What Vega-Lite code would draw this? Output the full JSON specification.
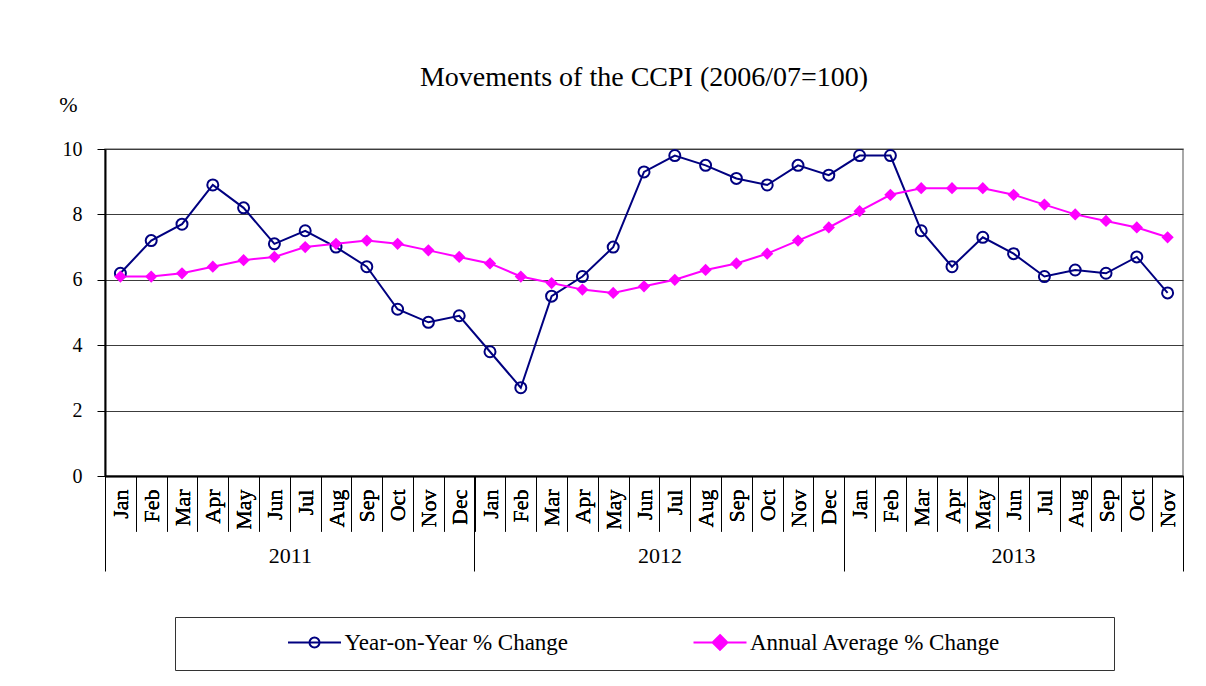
{
  "$schema": "https://vega.github.io/schema/vega-lite/v6.json",
  "width": 1078,
  "height": 327,
  "autosize": "none",
  "padding": {"left": 105, "top": 149, "right": 23, "bottom": 210},
  "background": "white",
  "title": {
    "text": "Movements of the CCPI (2006/07=100)",
    "font": "Liberation Serif",
    "fontSize": 28,
    "fontWeight": "normal",
    "color": "black",
    "anchor": "middle",
    "offset": 1
  },
  "config": {
    "font": "Liberation Serif",
    "view": {"stroke": "#8c8c8c", "strokeWidth": 1.5}
  },
  "data": {
    "values": [
      {"date": "2011-01-01", "series": "Year-on-Year % Change", "value": 6.2},
      {"date": "2011-02-01", "series": "Year-on-Year % Change", "value": 7.2},
      {"date": "2011-03-01", "series": "Year-on-Year % Change", "value": 7.7},
      {"date": "2011-04-01", "series": "Year-on-Year % Change", "value": 8.9},
      {"date": "2011-05-01", "series": "Year-on-Year % Change", "value": 8.2},
      {"date": "2011-06-01", "series": "Year-on-Year % Change", "value": 7.1},
      {"date": "2011-07-01", "series": "Year-on-Year % Change", "value": 7.5},
      {"date": "2011-08-01", "series": "Year-on-Year % Change", "value": 7.0},
      {"date": "2011-09-01", "series": "Year-on-Year % Change", "value": 6.4},
      {"date": "2011-10-01", "series": "Year-on-Year % Change", "value": 5.1},
      {"date": "2011-11-01", "series": "Year-on-Year % Change", "value": 4.7},
      {"date": "2011-12-01", "series": "Year-on-Year % Change", "value": 4.9},
      {"date": "2012-01-01", "series": "Year-on-Year % Change", "value": 3.8},
      {"date": "2012-02-01", "series": "Year-on-Year % Change", "value": 2.7},
      {"date": "2012-03-01", "series": "Year-on-Year % Change", "value": 5.5},
      {"date": "2012-04-01", "series": "Year-on-Year % Change", "value": 6.1},
      {"date": "2012-05-01", "series": "Year-on-Year % Change", "value": 7.0},
      {"date": "2012-06-01", "series": "Year-on-Year % Change", "value": 9.3},
      {"date": "2012-07-01", "series": "Year-on-Year % Change", "value": 9.8},
      {"date": "2012-08-01", "series": "Year-on-Year % Change", "value": 9.5},
      {"date": "2012-09-01", "series": "Year-on-Year % Change", "value": 9.1},
      {"date": "2012-10-01", "series": "Year-on-Year % Change", "value": 8.9},
      {"date": "2012-11-01", "series": "Year-on-Year % Change", "value": 9.5},
      {"date": "2012-12-01", "series": "Year-on-Year % Change", "value": 9.2},
      {"date": "2013-01-01", "series": "Year-on-Year % Change", "value": 9.8},
      {"date": "2013-02-01", "series": "Year-on-Year % Change", "value": 9.8},
      {"date": "2013-03-01", "series": "Year-on-Year % Change", "value": 7.5},
      {"date": "2013-04-01", "series": "Year-on-Year % Change", "value": 6.4},
      {"date": "2013-05-01", "series": "Year-on-Year % Change", "value": 7.3},
      {"date": "2013-06-01", "series": "Year-on-Year % Change", "value": 6.8},
      {"date": "2013-07-01", "series": "Year-on-Year % Change", "value": 6.1},
      {"date": "2013-08-01", "series": "Year-on-Year % Change", "value": 6.3},
      {"date": "2013-09-01", "series": "Year-on-Year % Change", "value": 6.2},
      {"date": "2013-10-01", "series": "Year-on-Year % Change", "value": 6.7},
      {"date": "2013-11-01", "series": "Year-on-Year % Change", "value": 5.6},
      {"date": "2011-01-01", "series": "Annual Average % Change", "value": 6.1},
      {"date": "2011-02-01", "series": "Annual Average % Change", "value": 6.1},
      {"date": "2011-03-01", "series": "Annual Average % Change", "value": 6.2},
      {"date": "2011-04-01", "series": "Annual Average % Change", "value": 6.4},
      {"date": "2011-05-01", "series": "Annual Average % Change", "value": 6.6},
      {"date": "2011-06-01", "series": "Annual Average % Change", "value": 6.7},
      {"date": "2011-07-01", "series": "Annual Average % Change", "value": 7.0},
      {"date": "2011-08-01", "series": "Annual Average % Change", "value": 7.1},
      {"date": "2011-09-01", "series": "Annual Average % Change", "value": 7.2},
      {"date": "2011-10-01", "series": "Annual Average % Change", "value": 7.1},
      {"date": "2011-11-01", "series": "Annual Average % Change", "value": 6.9},
      {"date": "2011-12-01", "series": "Annual Average % Change", "value": 6.7},
      {"date": "2012-01-01", "series": "Annual Average % Change", "value": 6.5},
      {"date": "2012-02-01", "series": "Annual Average % Change", "value": 6.1},
      {"date": "2012-03-01", "series": "Annual Average % Change", "value": 5.9},
      {"date": "2012-04-01", "series": "Annual Average % Change", "value": 5.7},
      {"date": "2012-05-01", "series": "Annual Average % Change", "value": 5.6},
      {"date": "2012-06-01", "series": "Annual Average % Change", "value": 5.8},
      {"date": "2012-07-01", "series": "Annual Average % Change", "value": 6.0},
      {"date": "2012-08-01", "series": "Annual Average % Change", "value": 6.3},
      {"date": "2012-09-01", "series": "Annual Average % Change", "value": 6.5},
      {"date": "2012-10-01", "series": "Annual Average % Change", "value": 6.8},
      {"date": "2012-11-01", "series": "Annual Average % Change", "value": 7.2},
      {"date": "2012-12-01", "series": "Annual Average % Change", "value": 7.6},
      {"date": "2013-01-01", "series": "Annual Average % Change", "value": 8.1},
      {"date": "2013-02-01", "series": "Annual Average % Change", "value": 8.6},
      {"date": "2013-03-01", "series": "Annual Average % Change", "value": 8.8},
      {"date": "2013-04-01", "series": "Annual Average % Change", "value": 8.8},
      {"date": "2013-05-01", "series": "Annual Average % Change", "value": 8.8},
      {"date": "2013-06-01", "series": "Annual Average % Change", "value": 8.6},
      {"date": "2013-07-01", "series": "Annual Average % Change", "value": 8.3},
      {"date": "2013-08-01", "series": "Annual Average % Change", "value": 8.0},
      {"date": "2013-09-01", "series": "Annual Average % Change", "value": 7.8},
      {"date": "2013-10-01", "series": "Annual Average % Change", "value": 7.6},
      {"date": "2013-11-01", "series": "Annual Average % Change", "value": 7.3}
    ]
  },
  "encoding": {
    "x": {
      "field": "date",
      "timeUnit": "utcyearmonth",
      "type": "ordinal",
      "scale": {"paddingInner": 0, "paddingOuter": 0},
      "axis": {
        "title": null,
        "orient": "bottom",
        "format": "%b",
        "labelAngle": -90,
        "labelAlign": "right",
        "labelBaseline": "middle",
        "labelOverlap": false,
        "tickBand": "extent",
        "tickSize": 55,
        "tickColor": "black",
        "tickWidth": 1,
        "labelPadding": -42,
        "labelFont": "Liberation Serif",
        "labelFontSize": 22,
        "labelColor": "black",
        "domainColor": "black",
        "domainWidth": 1.5,
        "grid": false
      }
    },
    "y": {
      "field": "value",
      "type": "quantitative",
      "scale": {"domain": [0, 10], "nice": false, "zero": true},
      "axis": {
        "title": "%",
        "titleAngle": 0,
        "titleX": -37,
        "titleY": -45,
        "titleAlign": "center",
        "titleBaseline": "middle",
        "titleFont": "Liberation Serif",
        "titleFontSize": 22,
        "titleFontWeight": "normal",
        "titleColor": "black",
        "values": [0, 2, 4, 6, 8, 10],
        "grid": true,
        "gridColor": "#3c3c3c",
        "gridWidth": 1,
        "tickSize": 8,
        "tickColor": "black",
        "domainColor": "black",
        "domainWidth": 2,
        "labelFont": "Liberation Serif",
        "labelFontSize": 20,
        "labelColor": "black",
        "labelPadding": 15
      }
    }
  },
  "layer": [
    {
      "mark": {"type": "line", "strokeWidth": 2},
      "encoding": {
        "color": {
          "field": "series",
          "type": "nominal",
          "scale": {"domain": ["Year-on-Year % Change", "Annual Average % Change"], "range": ["#000080", "#FF00FF"]},
          "legend": {
            "orient": "none",
            "legendX": 70,
            "legendY": 468,
            "direction": "horizontal",
            "title": "\u00a0",
            "titleOrient": "right",
            "titlePadding": 99,
            "titleFontSize": 23,
            "strokeColor": "#333333",
            "fillColor": "white",
            "padding": 14.5,
            "columnPadding": 26.5,
            "symbolType": "stroke",
            "symbolSize": 2809,
            "symbolStrokeWidth": 2,
            "symbolOffset": 97.5,
            "clipHeight": 22,
            "labelOffset": 2.5,
            "labelLimit": 600,
            "labelFont": "Liberation Serif",
            "labelFontSize": 23,
            "labelColor": "black",
            "encoding": {
              "symbols": {
                "shape": {"value": {"expr": "datum.value == 'Year-on-Year % Change' ? 'M-1,0L1,0M0.19,0A0.19,0.19 0 1,1 -0.19,0A0.19,0.19 0 1,1 0.19,0' : 'M-1,0L1,0M0,-0.28L0.28,0L0,0.28L-0.28,0Z'"}},
                "fill": {"value": {"expr": "datum.value == 'Year-on-Year % Change' ? 'transparent' : '#FF00FF'"}}
              }
            }
          }
        }
      }
    },
    {
      "transform": [{"filter": "datum.series == 'Year-on-Year % Change'"}],
      "mark": {"type": "point", "shape": "circle", "filled": false, "size": 121, "strokeWidth": 2, "color": "#000080", "opacity": 1}
    },
    {
      "transform": [{"filter": "datum.series == 'Annual Average % Change'"}],
      "mark": {"type": "point", "shape": "diamond", "filled": true, "size": 150, "color": "#FF00FF", "opacity": 1}
    },
    {
      "transform": [{"filter": "datum.series == 'Annual Average % Change'"}],
      "mark": {"type": "point", "opacity": 0},
      "encoding": {
        "x": {
          "field": "date",
          "timeUnit": "utcyearmonth",
          "type": "ordinal",
          "axis": {
            "orient": "bottom",
            "title": null,
            "values": [
              {"year": 2011, "month": 1, "utc": true},
              {"year": 2012, "month": 1, "utc": true},
              {"year": 2013, "month": 1, "utc": true}
            ],
            "bandPosition": 0,
            "format": "%Y",
            "labelAngle": 0,
            "labelAlign": "center",
            "labelBaseline": "top",
            "labelOffset": {"condition": {"test": "utcyear(datum.value) == 2013", "value": 154}, "value": 170},
            "labelPadding": -26,
            "labelOverlap": false,
            "tickSize": 95,
            "tickColor": "black",
            "tickWidth": 1,
            "domain": false,
            "grid": false,
            "labelFont": "Liberation Serif",
            "labelFontSize": 22,
            "labelColor": "black"
          }
        }
      }
    },
    {
      "transform": [{"filter": "datum.series == 'Annual Average % Change'"}],
      "mark": {"type": "point", "opacity": 0},
      "encoding": {
        "x": {
          "field": "date",
          "timeUnit": "utcyearmonth",
          "type": "ordinal",
          "axis": {
            "orient": "bottom",
            "title": null,
            "values": [{"year": 2013, "month": 11, "utc": true}],
            "bandPosition": 1,
            "labels": false,
            "tickSize": 95,
            "tickColor": "black",
            "tickWidth": 1,
            "domain": false,
            "grid": false
          }
        }
      }
    }
  ],
  "resolve": {"axis": {"x": "independent"}}
}
